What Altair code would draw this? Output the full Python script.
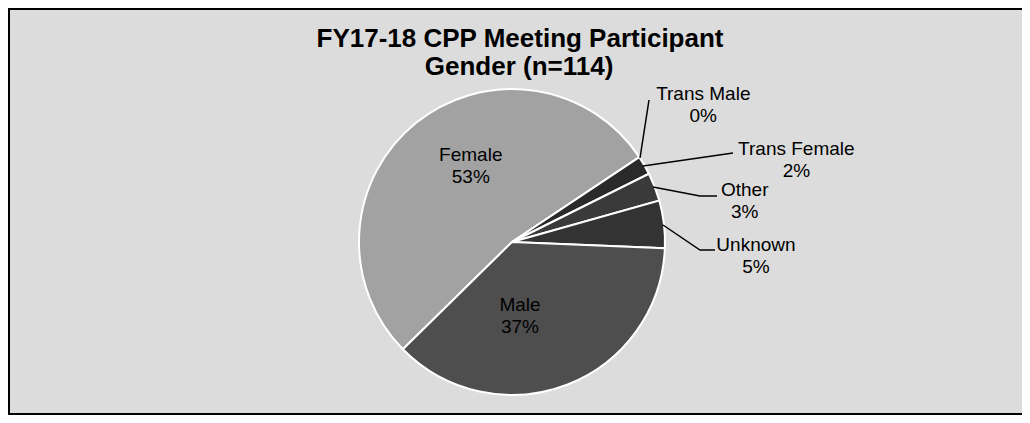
import math
import altair as alt
import pandas as pd

# ---- data ----
categories = ["Female", "Trans Male", "Trans Female", "Other", "Unknown", "Male"]
percents = [53, 0, 2, 3, 5, 37]
pct_labels = ["53%", "0%", "2%", "3%", "5%", "37%"]
title_lines = ["FY17-18 CPP Meeting Participant", "Gender (n=114)"]

# ---- style / layout ----
colors = ["#a2a2a2", "#2e2e2e", "#2a2a2a", "#3a3a3a", "#333333", "#4e4e4e"]
W, H = 1014, 407
CX, CY, R = 504, 234, 153
START = math.radians(225.5)
FONT = "Liberation Sans"
LH = 22

# per-label (radius, dx, dy)
label_style = {
    "Female": (86, 13, -9 - LH / 2),
    "Male": (75, -19, 4 - LH / 2),
    "Trans Male": (153, 64, -52 - LH / 2),
    "Trans Female": (153, 152, -5 - LH / 2),
    "Other": (153, 90, 14 - LH / 2),
    "Unknown": (153, 92, 32 - LH / 2),
}
# leader line paths (pixel layout, annotation only)
leader_paths = {
    "Trans Male": [(632, 150), (641, 92)],
    "Trans Female": [(635, 158), (725, 145)],
    "Other": [(645, 179), (692, 188), (709, 188)],
    "Unknown": [(655, 217), (692, 242), (707, 242)],
}

df = pd.DataFrame({
    "category": categories,
    "value": percents,
    "pct": pct_labels,
    "order": list(range(len(categories))),
})
df["label"] = df["category"] + "\n" + df["pct"]

theta_scale = alt.Scale(domain=[0, 100], range=[START, START + 2 * math.pi])

base = (
    alt.Chart(df)
    .transform_stack(stack="value", groupby=[], as_=["v0", "v1"],
                     sort=[alt.SortField("order", order="ascending")])
    .transform_calculate(mid="(datum.v0 + datum.v1) / 2")
)

arcs = base.mark_arc(outerRadius=R, stroke="white", strokeWidth=2).encode(
    theta=alt.Theta("v0:Q", scale=theta_scale),
    theta2="v1:Q",
    color=alt.Color("category:N", scale=alt.Scale(domain=categories, range=colors), legend=None),
    x=alt.value(CX),
    y=alt.value(CY),
)

label_layers = []
for cat, (rad, dx, dy) in label_style.items():
    label_layers.append(
        base.transform_filter(alt.datum.category == cat)
        .mark_text(radius=rad, dx=dx, dy=dy, font=FONT, fontSize=19, color="black",
                   align="center", baseline="middle", lineBreak="\n", lineHeight=LH)
        .encode(
            theta=alt.Theta("mid:Q", scale=theta_scale),
            text="label:N",
            x=alt.value(CX),
            y=alt.value(CY),
        )
    )

rows = []
for key, pts in leader_paths.items():
    for i, (px, py) in enumerate(pts):
        rows.append({"key": key, "idx": i, "px": px, "py": py})
leaders = alt.Chart(pd.DataFrame(rows)).mark_line(color="black", strokeWidth=1.5).encode(
    x=alt.X("px:Q", scale=None, axis=None),
    y=alt.Y("py:Q", scale=None, axis=None),
    detail="key:N",
    order="idx:Q",
)

title1 = alt.Chart(pd.DataFrame({"t": [title_lines[0]]})).mark_text(
    font=FONT, fontSize=26, fontWeight="bold", color="black", align="center", baseline="alphabetic"
).encode(text="t:N", x=alt.value(512), y=alt.value(39))
title2 = alt.Chart(pd.DataFrame({"t": [title_lines[1]]})).mark_text(
    font=FONT, fontSize=26, fontWeight="bold", color="black", align="center", baseline="alphabetic"
).encode(text="t:N", x=alt.value(511), y=alt.value(67))

border_left = alt.Chart(pd.DataFrame({"a": [0]})).mark_rule(color="black", strokeWidth=2).encode(
    x=alt.value(1), y=alt.value(0), y2=alt.value(H))
border_top = alt.Chart(pd.DataFrame({"a": [0]})).mark_rule(color="black", strokeWidth=2).encode(
    x=alt.value(0), x2=alt.value(W), y=alt.value(1))
border_bottom = alt.Chart(pd.DataFrame({"a": [0]})).mark_rule(color="black", strokeWidth=2).encode(
    x=alt.value(0), x2=alt.value(W), y=alt.value(H - 1))

chart = (
    alt.layer(arcs, leaders, *label_layers, title1, title2, border_left, border_top, border_bottom)
    .properties(width=W, height=H, autosize=alt.AutoSizeParams(type="none"), padding=0)
    .configure_view(stroke=None)
    .configure(background="#dcdcdc")
)

chart.save("out.html", embed_options={"renderer": "svg", "actions": False})
